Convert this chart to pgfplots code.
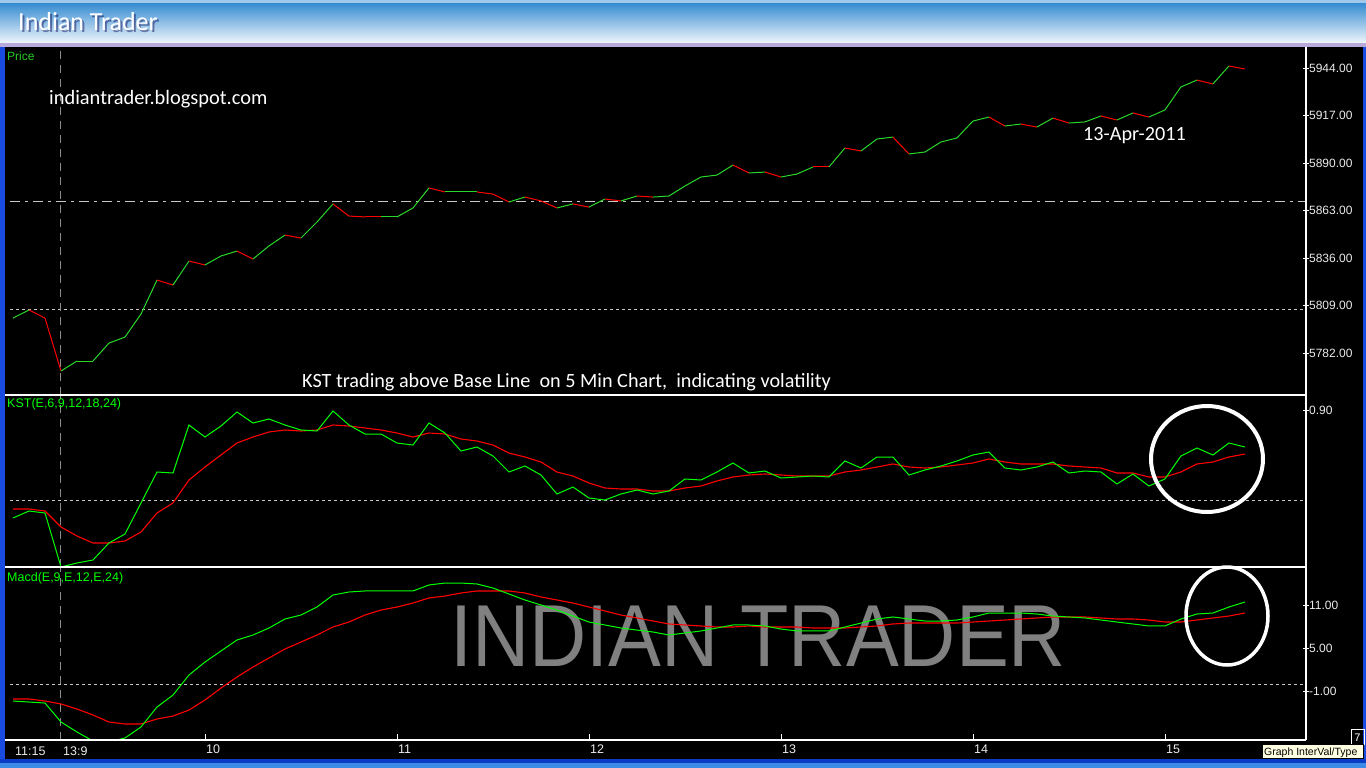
\documentclass[border=0pt]{standalone}
\usepackage{fontspec}
\usepackage{pgfplots}
\usepackage{pgfplotstable}
\pgfplotsset{compat=1.18}
\setmainfont{Carlito}
\newfontfamily\sansfont{Liberation Sans}
\definecolor{pgreen}{RGB}{40,215,40}
\definecolor{kgreen}{RGB}{0,255,0}
\definecolor{kred}{RGB}{255,0,0}
\definecolor{lblgreen}{RGB}{40,205,40}
\definecolor{ticktxt}{RGB}{235,235,235}
\definecolor{tbtop}{RGB}{58,142,210}
\definecolor{tbbot}{RGB}{240,246,252}
\definecolor{tblight}{RGB}{160,200,235}
\definecolor{lav}{RGB}{185,170,220}
\definecolor{bordblue}{RGB}{25,75,225}
\definecolor{botblue}{RGB}{10,60,200}
\definecolor{botlight}{RGB}{60,140,230}
\definecolor{wmgray}{RGB}{128,128,128}
\definecolor{dashgray}{RGB}{200,200,200}
\definecolor{daygray}{RGB}{140,140,140}
\definecolor{tipyellow}{RGB}{255,255,225}

\pgfplotstableread{
k v c
0 5802.0 1
1 5806.6 0
2 5802.0 0
3 5771.9 1
4 5777.6 1
5 5777.6 1
6 5787.8 1
7 5791.2 1
8 5804.3 1
9 5823.6 0
10 5820.8 1
11 5834.4 0
12 5832.2 1
13 5837.3 1
14 5840.1 0
15 5835.6 1
16 5843.0 1
17 5849.2 0
18 5847.5 1
19 5856.6 1
20 5866.9 0
21 5860.0 0
22 5859.5 0
23 5859.5 1
24 5859.5 1
25 5864.6 1
26 5876.0 0
27 5873.7 1
28 5873.7 1
29 5873.7 0
30 5872.5 0
31 5868.0 1
32 5870.8 0
33 5868.6 0
34 5864.6 1
35 5866.9 0
36 5865.1 1
37 5869.7 0
38 5868.6 1
39 5871.4 0
40 5870.8 1
41 5871.4 1
42 5877.1 1
43 5882.2 1
44 5883.3 1
45 5889.0 0
46 5884.5 1
47 5885.0 0
48 5882.2 1
49 5883.9 1
50 5887.9 0
51 5887.9 1
52 5898.7 0
53 5897.0 1
54 5903.8 1
55 5904.9 0
56 5895.3 1
57 5896.4 1
58 5902.1 1
59 5904.4 1
60 5914.0 1
61 5916.3 0
62 5911.2 1
63 5912.3 0
64 5910.6 1
65 5915.7 0
66 5912.9 1
67 5913.5 1
68 5916.9 0
69 5914.6 1
70 5918.6 0
71 5916.3 1
72 5920.3 1
73 5933.4 1
74 5937.3 0
75 5935.1 1
76 5945.3 0
77 5943.6 0
}\pricetable

\pgfplotstableread{
k g r
0 -0.18 -0.09
1 -0.11 -0.09
2 -0.13 -0.11
3 -0.67 -0.27
4 -0.63 -0.36
5 -0.60 -0.43
6 -0.43 -0.43
7 -0.34 -0.41
8 -0.03 -0.32
9 0.28 -0.13
10 0.27 -0.03
11 0.75 0.20
12 0.63 0.33
13 0.74 0.45
14 0.88 0.57
15 0.77 0.63
16 0.81 0.68
17 0.75 0.70
18 0.70 0.69
19 0.69 0.70
20 0.89 0.75
21 0.75 0.74
22 0.66 0.72
23 0.66 0.70
24 0.57 0.67
25 0.55 0.63
26 0.77 0.67
27 0.67 0.66
28 0.49 0.61
29 0.53 0.59
30 0.44 0.55
31 0.28 0.47
32 0.34 0.43
33 0.25 0.38
34 0.06 0.28
35 0.13 0.24
36 0.02 0.17
37 0.00 0.12
38 0.06 0.11
39 0.10 0.11
40 0.06 0.09
41 0.09 0.09
42 0.21 0.12
43 0.20 0.14
44 0.28 0.19
45 0.37 0.23
46 0.27 0.25
47 0.29 0.26
48 0.22 0.25
49 0.23 0.24
50 0.24 0.24
51 0.23 0.24
52 0.39 0.28
53 0.32 0.30
54 0.43 0.33
55 0.43 0.36
56 0.25 0.33
57 0.30 0.32
58 0.34 0.33
59 0.39 0.35
60 0.45 0.37
61 0.48 0.41
62 0.32 0.38
63 0.30 0.36
64 0.33 0.36
65 0.38 0.36
66 0.27 0.34
67 0.29 0.33
68 0.28 0.32
69 0.16 0.27
70 0.26 0.27
71 0.14 0.23
72 0.21 0.23
73 0.44 0.28
74 0.52 0.36
75 0.45 0.38
76 0.57 0.43
77 0.53 0.46
}\ksttable

\pgfplotstableread{
k g r
0 -2.30 -2.02
1 -2.44 -2.02
2 -2.58 -2.30
3 -5.21 -2.71
4 -6.59 -3.41
5 -7.84 -4.24
6 -7.98 -5.21
7 -7.42 -5.48
8 -5.90 -5.48
9 -3.13 -4.79
10 -1.47 -4.38
11 1.30 -3.55
12 3.10 -2.16
13 4.63 -0.50
14 6.15 1.02
15 6.84 2.41
16 7.81 3.66
17 9.06 4.90
18 9.61 5.87
19 10.72 6.84
20 12.38 7.95
21 12.80 8.64
22 12.94 9.61
23 12.94 10.30
24 12.94 10.72
25 12.94 11.27
26 13.77 11.97
27 14.04 12.24
28 14.04 12.66
29 13.91 12.94
30 13.35 12.94
31 12.52 12.94
32 11.69 12.66
33 11.00 12.11
34 10.30 11.69
35 9.47 11.27
36 8.64 10.72
37 8.23 10.17
38 7.81 9.61
39 7.53 9.20
40 7.26 8.78
41 6.84 8.37
42 7.12 8.23
43 7.40 8.09
44 7.81 7.95
45 8.23 7.95
46 8.23 8.09
47 8.09 7.95
48 7.67 7.95
49 7.40 7.95
50 7.40 7.81
51 7.40 7.81
52 7.95 7.81
53 8.50 7.95
54 9.06 8.09
55 9.34 8.37
56 9.06 8.50
57 8.78 8.50
58 8.78 8.50
59 8.92 8.50
60 9.34 8.64
61 9.89 8.78
62 9.89 8.92
63 9.89 9.06
64 9.75 9.20
65 9.47 9.34
66 9.34 9.34
67 9.20 9.34
68 8.92 9.20
69 8.64 9.06
70 8.37 9.06
71 8.09 8.92
72 8.09 8.64
73 9.06 8.64
74 9.75 8.92
75 9.89 9.20
76 10.72 9.47
77 11.41 9.89
}\macdtable

\pgfplotsset{
  panel/.style={
    scale only axis, width=1296pt,
    xmin=-0.1875, xmax=80.8125,
    axis line style={draw=none},
    xtick=\empty,
    ytick pos=right,
    ytick align=center,
    major tick length=6pt,
    tick style={draw=white, line width=0.8pt},
    yticklabel style={font=\sansfont\fontsize{12}{12}\selectfont, text=ticktxt, anchor=west, inner sep=0pt, xshift=0pt},
    clip=true,
  },
}

\begin{document}
\begin{tikzpicture}[x=1pt,y=1pt]
% background
\fill[black] (0,0) rectangle (1366,-768);
% title bar
\fill[tblight] (0,0) rectangle (1366,-4);
\shade[top color=tbtop, bottom color=tbbot] (0,-4) rectangle (1366,-43);
\fill[lav] (0,-43) rectangle (1366,-47);
\node[anchor=base west, inner sep=0, text=black!70!blue, opacity=0.45, font=\fontsize{26}{26}\selectfont] at (20,-33) {Indian Trader};
\node[anchor=base west, inner sep=0, text=white, font=\fontsize{26}{26}\selectfont] at (18,-31) {Indian Trader};
% borders
\fill[bordblue] (0,-47) rectangle (5,-768);
\fill[bordblue] (1363,-47) rectangle (1366,-768);
\fill[botblue] (0,-759) rectangle (1366,-763);
\fill[botlight] (0,-763) rectangle (1366,-768);

% watermark (behind lines)
\node[anchor=base west, inner sep=0, text=wmgray, font=\sansfont\fontsize{88}{88}\selectfont, xscale=0.9] at (450,-666) {INDIAN TRADER};

% ---------- Price panel ----------
\begin{axis}[panel, at={(10pt,-395pt)}, anchor=south west, height=349pt,
  ymin=5758.27, ymax=5956.68,
  ytick={5782,5809,5836,5863,5890,5917,5944},
  yticklabels={5782.00,5809.00,5836.00,5863.00,5890.00,5917.00,5944.00},
  colormap={updown}{color(0)=(kred) color(1)=(pgreen)},
  point meta min=0, point meta max=1]
\addplot[dashgray, line width=1pt, dash pattern=on 10pt off 5pt on 3pt off 5pt] coordinates {(-0.1875,5868) (80.8125,5868)};
\addplot[dashgray, line width=1pt, dash pattern=on 3pt off 3pt] coordinates {(-0.1875,5806.6) (80.8125,5806.6)};
\addplot[daygray, line width=1pt, dash pattern=on 8pt off 6pt] coordinates {(3,5758.27) (3,5956.68)};
\addplot[mesh, shader=flat corner, point meta=\thisrow{c}, line width=1pt] table[x=k, y=v] {\pricetable};
\end{axis}

% ---------- KST panel ----------
\begin{axis}[panel, at={(10pt,-567pt)}, anchor=south west, height=172pt,
  ymin=-0.67, ymax=1.05,
  ytick={0.9}, yticklabels={0.90}]
\addplot[dashgray, line width=1pt, dash pattern=on 3pt off 3pt] coordinates {(-0.1875,0) (80.8125,0)};
\addplot[daygray, line width=1pt, dash pattern=on 8pt off 6pt] coordinates {(3,-0.67) (3,1.05)};
\addplot[kred, line width=1.1pt] table[x=k, y=r] {\ksttable};
\addplot[kgreen, line width=1pt] table[x=k, y=g] {\ksttable};
\end{axis}

% ---------- MACD panel ----------
\begin{axis}[panel, at={(10pt,-740pt)}, anchor=south west, height=173pt,
  ymin=-7.70, ymax=16.26,
  ytick={-1,5,11}, yticklabels={-1.00,5.00,11.00},
  xtick={12,24,36,48,60,72}, xticklabels={10,11,12,13,14,15},
  xtick pos=bottom, xtick align=inside,
  xticklabel style={font=\sansfont\fontsize{12.5}{12.5}\selectfont, text=ticktxt, anchor=north west, inner sep=0pt, yshift=-5pt, xshift=1pt}]
\addplot[dashgray, line width=1pt, dash pattern=on 3pt off 3pt] coordinates {(-0.1875,0) (80.8125,0)};
\addplot[daygray, line width=1pt, dash pattern=on 8pt off 6pt] coordinates {(3,-7.70) (3,16.26)};
\addplot[kred, line width=1.1pt] table[x=k, y=r] {\macdtable};
\addplot[kgreen, line width=1pt] table[x=k, y=g] {\macdtable};
\end{axis}

% panel frame lines
\draw[white, line width=1.2pt] (5,-395) -- (1306,-395);
\draw[white, line width=1.2pt] (5,-567) -- (1306,-567);
\draw[white, line width=1.2pt] (5,-740) -- (1306,-740);
\draw[white, line width=1.2pt] (1306,-47) -- (1306,-740);

% panel labels
\node[anchor=base west, inner sep=0, text=lblgreen, font=\sansfont\fontsize{12}{12}\selectfont] at (7,-61) {Price};
\node[anchor=base west, inner sep=0, text=kgreen, font=\sansfont\fontsize{12.5}{12.5}\selectfont] at (7,-407) {KST(E,6,9,12,18,24)};
\node[anchor=base west, inner sep=0, text=kgreen, font=\sansfont\fontsize{12.5}{12.5}\selectfont] at (7,-581) {Macd(E,9,E,12,E,24)};
\node[anchor=base west, inner sep=0, text=ticktxt, font=\sansfont\fontsize{12.5}{12.5}\selectfont] at (15,-755) {11:15};
\node[anchor=base west, inner sep=0, text=ticktxt, font=\sansfont\fontsize{12.5}{12.5}\selectfont] at (63,-755) {13:9};

% annotations
\node[anchor=base west, inner sep=0, text=white, font=\fontsize{20.4}{20.4}\selectfont] at (49,-104) {indiantrader.blogspot.com};
\node[anchor=base west, inner sep=0, text=white, font=\fontsize{20.2}{20.2}\selectfont] at (1083,-140) {13-Apr-2011};
\node[anchor=base west, inner sep=0, text=white, font=\fontsize{20.2}{20.2}\selectfont] at (302,-387) {KST trading above Base Line\ \ on 5 Min Chart,\ \ indicating volatility};

% circles
\draw[white, line width=4pt] (1207,-459) ellipse [x radius=56, y radius=53];
\draw[white, line width=3.5pt] (1227,-616) ellipse [x radius=41, y radius=49];

% bottom-right widgets
\draw[white, line width=0.8pt] (1351,-729) rectangle (1364,-744);
\node[anchor=base, inner sep=0, text=white, font=\sansfont\fontsize{11}{11}\selectfont] at (1357.5,-741) {7};
\fill[tipyellow] (1262,-744) rectangle (1363,-758);
\draw[black, line width=0.6pt] (1262,-744) rectangle (1363,-758);
\node[anchor=base west, inner sep=0, text=black, font=\sansfont\fontsize{10.5}{10.5}\selectfont] at (1264,-755) {Graph InterVal/Type};
\end{tikzpicture}
\end{document}
